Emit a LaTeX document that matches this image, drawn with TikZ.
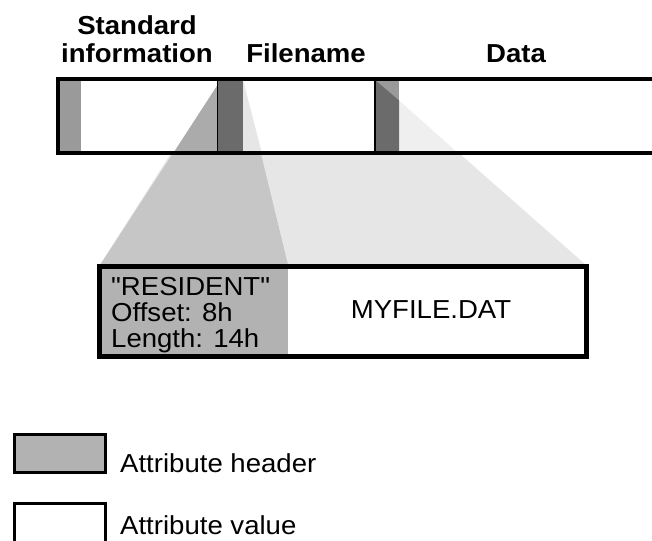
\documentclass[tikz,border=0pt]{standalone}
\usepackage{fontspec}
\setmainfont{Liberation Sans}[FakeStretch=1.06]
% same face without the TeX quote mapping, for straight quotes
\newfontfamily\rawsans{Liberation Sans}[FakeStretch=1.06]
\definecolor{stripgray}{HTML}{9A9A9A}
\definecolor{hdrgray}{HTML}{B2B2B2}
\definecolor{darkgray}{HTML}{6B6B6B}
\definecolor{projmid}{HTML}{C6C6C6}
\definecolor{inbarmid}{HTML}{ABABAB}
\definecolor{projlight}{HTML}{E6E6E6}
\definecolor{projfaint}{HTML}{EFEFEF}
\begin{document}
\begin{tikzpicture}[x=1pt,y=-1pt,
  txt/.style={font=\fontsize{26}{27}\selectfont, inner sep=0pt, anchor=base west},
  head/.style={font=\fontsize{26}{27}\selectfont\bfseries, inner sep=0pt, anchor=base},
  thickline/.style={line width=4pt, line join=miter},
  boxline/.style={line width=5pt, line join=miter},
  legline/.style={line width=3pt, line join=miter},
  divider/.style={line width=1.5pt}]
\useasboundingbox (0,0) rectangle (652,540);
\clip (0,0) rectangle (652,540);

% projection of the filename attribute onto the expanded record
\fill[projlight] (217.5,80) -- (376,80) -- (586,265) -- (100,265) -- cycle;
\fill[projmid] (217.5,85) -- (243,80) -- (288,265) -- (100,265) -- cycle;

% record bar
\fill[white] (58,79) rectangle (660,153.5);
\fill[inbarmid] (217.5,85) -- (217.5,153.5) -- (173,153.5) -- cycle;
\fill[projlight] (243,80) -- (262,153.5) -- (243,153.5) -- cycle;
\fill[projfaint] (399,100.4) -- (458.5,153.5) -- (399,153.5) -- cycle;

% attribute header strips
\fill[stripgray] (58,79) rectangle (81,153.5);
\fill[darkgray] (217.5,79) rectangle (243,153.5);
\fill[stripgray] (375,79) rectangle (399,153.5);
\fill[darkgray] (375,80) -- (399,100.4) -- (399,153.5) -- (375,153.5) -- cycle;

\draw[divider] (217.5,79) -- (217.5,153.5);
\draw[divider] (375,79) -- (375,153.5);
\draw[thickline] (660,79) -- (58,79) -- (58,153.5) -- (660,153.5);

% headings
\node[head] (std1) at (137,35) {Standard};
\node[head] (std2) at (137,63) {information};
\node[head] (fname) at (306,63) {Filename};
\node[head] (data) at (516,63) {Data};

% expanded resident attribute
\fill[white] (99.5,266.5) rectangle (586.5,356.5);
\fill[hdrgray] (99.5,266.5) rectangle (288,356.5);
\draw[boxline] (99.5,266.5) rectangle (586.5,356.5);
\node[txt] (res) at (111,295) {{\rawsans"}RESIDENT{\rawsans"}};
\node[txt] (off) at (111,321) {Offset: 8h};
\node[txt] (len) at (111,347) {Length: 14h};
\node[txt, anchor=base] (val) at (431,318) {MYFILE.DAT};

% legend
\filldraw[legline, fill=hdrgray] (14.5,434.5) rectangle (105.5,472.5);
\draw[legline] (14.5,503.5) rectangle (105.5,548);
\node[txt] (lhdr) at (120,472) {Attribute header};
\node[txt] (lval) at (120,534) {Attribute value};
\end{tikzpicture}
\end{document}
